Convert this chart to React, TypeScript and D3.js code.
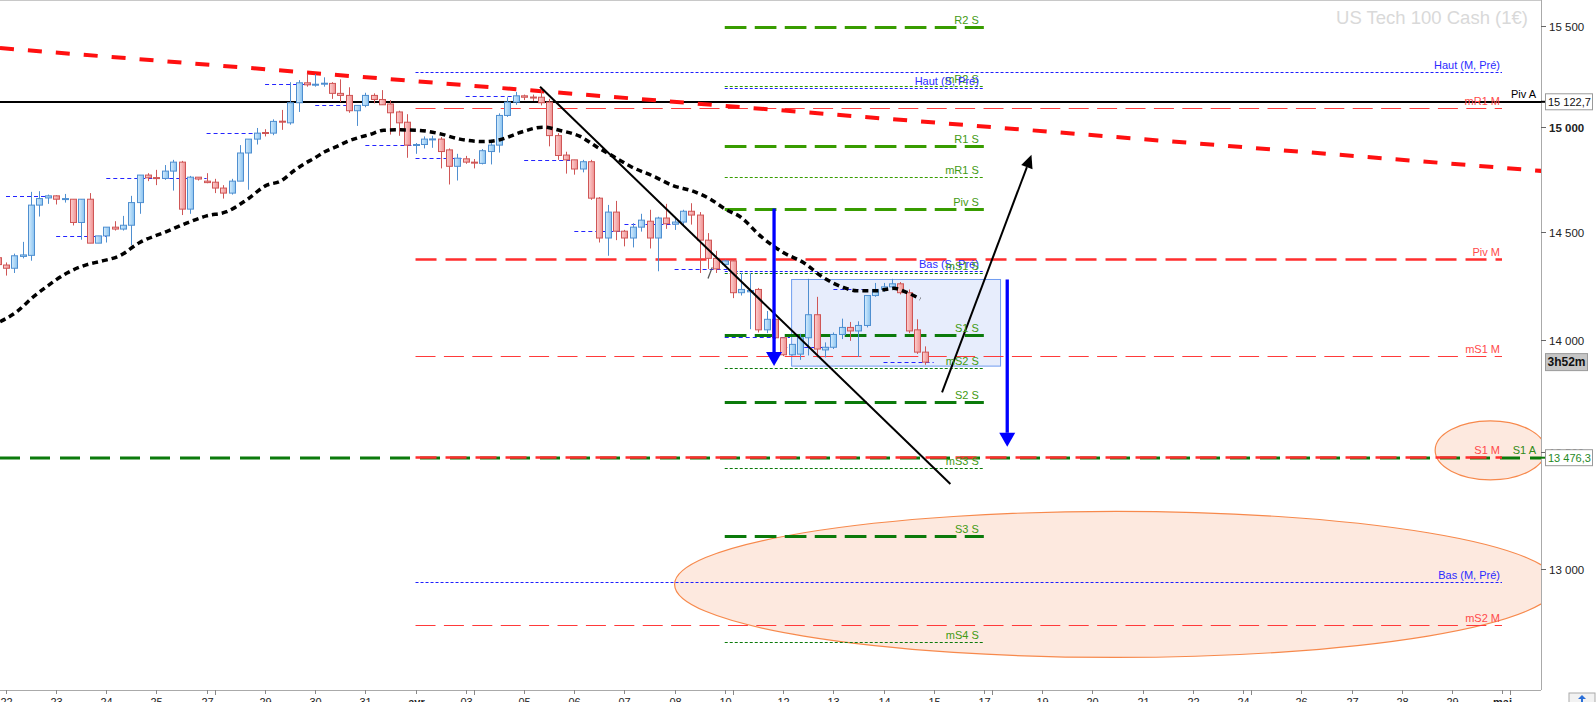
import React from "react";
import * as d3 from "d3";

// 4h candles of US Tech 100, first visible candle sits at slot -1
const firstSlot = -1;
const ohlc: [number, number, number, number][] = [
  [14378, 14392, 14340, 14346],
  [14344, 14356, 14295, 14329], [14329, 14397, 14307, 14387], [14384, 14452, 14375, 14391],
  [14389, 14688, 14364, 14625], [14625, 14691, 14571, 14656], [14659, 14675, 14631, 14669],
  [14669, 14672, 14628, 14653], [14654, 14678, 14637, 14656], [14653, 14653, 14529, 14543],
  [14543, 14653, 14462, 14653], [14653, 14682, 14446, 14446], [14446, 14480, 14446, 14480],
  [14480, 14521, 14449, 14521], [14521, 14549, 14505, 14512], [14512, 14574, 14505, 14530],
  [14530, 14669, 14437, 14637], [14637, 14768, 14584, 14768], [14768, 14777, 14739, 14755],
  [14756, 14793, 14720, 14754], [14752, 14816, 14745, 14787], [14787, 14841, 14694, 14830],
  [14830, 14836, 14578, 14606], [14606, 14764, 14584, 14758], [14758, 14758, 14742, 14749],
  [14739, 14777, 14729, 14732], [14734, 14750, 14682, 14706], [14706, 14720, 14656, 14682],
  [14682, 14750, 14675, 14739], [14739, 14912, 14739, 14874], [14874, 14941, 14698, 14941],
  [14941, 14995, 14915, 14970], [14973, 14989, 14954, 14970], [14970, 15037, 14960, 15027],
  [15028, 15083, 14986, 15025], [15020, 15219, 15011, 15118], [15118, 15229, 15073, 15216],
  [15216, 15262, 15197, 15206], [15207, 15259, 15197, 15209], [15212, 15243, 15197, 15214],
  [15213, 15219, 15137, 15164], [15164, 15233, 15121, 15154], [15154, 15194, 15069, 15079],
  [15079, 15105, 15005, 15105], [15105, 15167, 15096, 15154], [15154, 15164, 15115, 15134],
  [15134, 15180, 15108, 15108], [15112, 15131, 14963, 15069], [15073, 15079, 14957, 15020],
  [15023, 15062, 14851, 14912], [14913, 14922, 14870, 14915], [14915, 14954, 14896, 14941],
  [14940, 14957, 14899, 14942], [14941, 14951, 14800, 14881], [14889, 14896, 14723, 14810],
  [14810, 14870, 14742, 14849], [14846, 14860, 14822, 14830], [14830, 14845, 14800, 14828],
  [14824, 14893, 14819, 14885], [14881, 14938, 14819, 14912], [14912, 15066, 14876, 15056],
  [15056, 15145, 15049, 15121], [15121, 15171, 15108, 15152], [15152, 15158, 15131, 15145],
  [15146, 15158, 15127, 15144], [15145, 15194, 15105, 15118], [15121, 15137, 14906, 14958],
  [14958, 14970, 14841, 14862], [14864, 14880, 14775, 14841], [14841, 14841, 14770, 14797],
  [14797, 14841, 14781, 14832], [14832, 14841, 14650, 14658], [14658, 14663, 14449, 14470],
  [14470, 14626, 14387, 14592], [14592, 14645, 14460, 14502], [14502, 14508, 14431, 14470],
  [14470, 14540, 14426, 14521], [14521, 14584, 14500, 14554], [14549, 14603, 14421, 14470],
  [14470, 14570, 14315, 14564], [14564, 14631, 14513, 14537], [14535, 14564, 14508, 14545],
  [14545, 14603, 14530, 14596], [14596, 14634, 14533, 14578], [14578, 14592, 14307, 14460],
  [14460, 14493, 14326, 14375], [14375, 14410, 14307, 14326], [14347, 14369, 14341, 14363],
  [14363, 14369, 14191, 14216], [14216, 14307, 14203, 14231], [14220, 14307, 14049, 14226],
  [14231, 14238, 14034, 14046], [14046, 14132, 14031, 14094], [14094, 14097, 14004, 14010],
  [14010, 14010, 13927, 13933], [13933, 13980, 13930, 13980], [13936, 14028, 13910, 14010],
  [14010, 14280, 13930, 14115], [14115, 14197, 13921, 13959], [13955, 13989, 13921, 13967],
  [13967, 14034, 13959, 14025], [14025, 14097, 14004, 14057], [14057, 14082, 13996, 14041],
  [14041, 14085, 13923, 14066], [14066, 14203, 14057, 14203], [14203, 14261, 14197, 14231],
  [14231, 14261, 14220, 14243], [14243, 14280, 14238, 14257], [14257, 14265, 14208, 14216],
  [14216, 14231, 14031, 14041], [14046, 14094, 13937, 13945], [13945, 13971, 13888, 13900],
];

// moving average
const maSlots = [-0.7, 1.3, 3.3, 4.9, 7.3, 9.7, 11.3, 13.6, 16, 19.2, 21.6, 24, 26.4, 28.8, 31.2,
  32.8, 34.6, 35.7, 36.9, 38.2, 39.6, 40.8, 42, 43.5, 45.2, 47.1, 49.5, 51.9, 54.3, 57.1, 59.1,
  61.5, 64.3, 66.3, 68.7, 70.7, 72.7, 74.7, 77.5, 79.8, 82.2, 84.2, 86.2, 87.8, 90.4, 93, 95.4,
  97.8, 100.2, 101.8, 104.2, 106.2, 107.8, 109.4];
const maValues = [14083, 14129, 14198, 14245, 14307, 14346, 14361, 14387, 14449, 14500, 14540,
  14574, 14594, 14650, 14720, 14738, 14793, 14822, 14849, 14881, 14906, 14929, 14946, 14963,
  14984, 14986, 14983, 14967, 14941, 14929, 14938, 14973, 14999, 14983, 14954, 14903, 14857,
  14810, 14762, 14718, 14691, 14655, 14603, 14571, 14475, 14402, 14356, 14286, 14240, 14225,
  14225, 14236, 14217, 14187];

// daily reference segments [start slot, end slot, price]
const dailyRefs: [number, number, number][] = [
  [0, 5.9, 14667], [6, 12, 14479], [12, 24, 14754], [24, 31.2, 14970], [31, 37.3, 15208],
  [37, 41.5, 15105], [43, 48.6, 14912], [49, 54.7, 14849], [55, 62.3, 15152], [62, 67.9, 14841],
  [68, 74, 14502], [74, 80, 14535], [80, 86.3, 14326], [86, 93.8, 14012], [93, 98.6, 13967],
  [99, 102.5, 14231], [105, 111, 13900],
];

const weekSpan = [86, 117];
const weekNames = ["R2 S", "mR2 S", "Haut (S, Pré)", "R1 S", "mR1 S", "Piv S", "Bas (S, Pré)",
  "mS1 S", "S1 S", "mS2 S", "S2 S", "mS3 S", "S3 S", "mS4 S"];
const weekValues = [15495, 15200, 15192, 14909, 14758, 14608, 14318, 14306, 14023, 13874, 13722,
  13430, 13140, 12694];

const monthSpan = [49, 179];
const monthNames = ["Haut (M, Pré)", "mR1 M", "Piv M", "mS1 M", "S1 M", "Bas (M, Pré)", "mS2 M"];
const monthValues = [15271, 15090, 14372, 13926, 13481, 12944, 12765];

const yearNames = ["Piv A", "S1 A"];
const yearValues = [15122.7, 13476.3];

const dayTicks: [string, number][] = [
  ["22", 0], ["23", 6], ["24", 12], ["25", 18], ["27", 24], ["29", 31], ["30", 37], ["31", 43],
  ["avr", 49], ["03", 55], ["05", 62], ["06", 68], ["07", 74], ["08", 80], ["10", 86], ["12", 93],
  ["13", 99], ["14", 105], ["15", 111], ["17", 117], ["19", 124], ["20", 130], ["21", 136],
  ["22", 142], ["24", 148], ["26", 155], ["27", 161], ["28", 167], ["29", 173], ["mai", 179],
];
const weekStarts = [25, 56, 87, 118, 149, 180];
const priceTicks = [13000, 13500, 14000, 14500, 15000, 15500];

// drawings
const redTrend: [number, number][] = [[-0.72, 15388], [183.7, 14788]];
const blackTrend: [number, number][] = [[63.9, 15197], [113, 13362]];
const upMove: [number, number][] = [[112, 13764], [122.7, 14865]];
const downMoves: [number, number, number][] = [[91.9, 14609, 13882], [119.8, 14277, 13524]];
const rangeBox = { slots: [94, 119], prices: [14277, 13882] };
const targetZones: [number, number, number, number][] = [
  [80, 185.6, 13244, 12632],
  [171, 184.2, 13638, 13380],
];
const tick: [number, number][] = [[84, 14282], [84.5, 14333]];
const countdown = "3h52m";

const W = 1596;
const H = 702;
const plotRight = 1541;
const plotBottom = 690;
const font = "'Liberation Sans', Arial, sans-serif";

const x = d3.scaleLinear().domain([0, 179]).range([6, 1502]);
const y = d3.scaleLog().domain([13000, 15500]).range([568.8, 25.7]);

const fmtPrice = (v: number, dec = 0) =>
  d3.format(`,.${dec}f`)(v).replace(",", " ").replace(".", ",");

function levelStyle(name: string) {
  if (name.startsWith("Haut") || name.startsWith("Bas"))
    return { stroke: "#1e1eff", width: 1, dash: "3,2", text: "#2b2bff" };
  const minor = name.startsWith("m");
  if (name.endsWith(" S")) {
    const upper = name.includes("R") || name.startsWith("Piv");
    const c = upper ? "#389c00" : "#0b7a0b";
    return minor
      ? { stroke: c, width: 1, dash: "3,2", text: "#3f9a12" }
      : { stroke: c, width: 3, dash: "21.7,8.3", text: "#3f9a12" };
  }
  if (name.endsWith(" M"))
    return minor
      ? { stroke: "#ff3a3a", width: 1, dash: "20,8.4", text: "#ff4a4a" }
      : { stroke: "#ff2e2e", width: 2.5, dash: "21,9", text: "#ff4a4a" };
  return { stroke: "#000", width: 2, dash: "", text: "#000" };
}

function arrowHead(x1: number, y1: number, x2: number, y2: number, len: number, wid: number) {
  const dx = x2 - x1;
  const dy = y2 - y1;
  const d = Math.hypot(dx, dy);
  const ux = dx / d;
  const uy = dy / d;
  const bx = x2 - ux * len;
  const by = y2 - uy * len;
  const px = -uy * (wid / 2);
  const py = ux * (wid / 2);
  return { bx, by, pts: `${x2},${y2} ${bx + px},${by + py} ${bx - px},${by - py}` };
}

const Candles = () => (
  <g>
    {ohlc.map(([o, h, l, c], i) => {
      const cx = Math.round(x(i + firstSlot)) + 0.5;
      const up = c >= o;
      const stroke = up ? "#4f8fd0" : "#cf5656";
      const top = y(Math.max(o, c));
      const bot = y(Math.min(o, c));
      return (
        <g key={i}>
          <line x1={cx} x2={cx} y1={y(h)} y2={y(l)} stroke={stroke} strokeWidth={1} />
          <rect
            x={cx - 3}
            y={top}
            width={6}
            height={Math.max(1, bot - top)}
            fill={up ? "url(#gBlue)" : "url(#gRed)"}
            stroke={stroke}
            strokeWidth={1}
          />
        </g>
      );
    })}
  </g>
);

export default function App() {
  const ma = d3
    .line<number>()
    .x((_, i) => x(maSlots[i]))
    .y((v) => y(v))
    .curve(d3.curveMonotoneX)(maValues);

  const up = arrowHead(x(upMove[0][0]), y(upMove[0][1]), x(upMove[1][0]), y(upMove[1][1]), 13, 12);

  return (
    <svg
      width={W}
      height={H}
      style={{ position: "fixed", left: 0, top: 0, background: "#fff", display: "block" }}
      fontFamily={font}
    >
      <defs>
        <linearGradient id="gRed" x1="0" x2="1" y1="0" y2="0">
          <stop offset="0" stopColor="#fcd2d2" />
          <stop offset="1" stopColor="#ef8f8f" />
        </linearGradient>
        <linearGradient id="gBlue" x1="0" x2="1" y1="0" y2="0">
          <stop offset="0" stopColor="#d6edfd" />
          <stop offset="1" stopColor="#88c2f0" />
        </linearGradient>
        <clipPath id="plot">
          <rect x={0} y={0} width={plotRight} height={plotBottom} />
        </clipPath>
      </defs>

      <rect width={W} height={H} fill="#fff" />

      <text x={1528} y={24} textAnchor="end" fontSize={18.5} fill="#d9d9d9">
        US Tech 100 Cash (1€)
      </text>

      <g clipPath="url(#plot)">
        {targetZones.map(([s0, s1, p0, p1], i) => {
          const x0 = x(s0);
          const x1 = x(s1);
          const y0 = y(p0);
          const y1 = y(p1);
          return (
            <ellipse
              key={i}
              cx={(x0 + x1) / 2}
              cy={(y0 + y1) / 2}
              rx={(x1 - x0) / 2}
              ry={(y1 - y0) / 2}
              fill="#fde9df"
              stroke="#f7894c"
              strokeWidth={1.2}
            />
          );
        })}

        <rect
          x={x(rangeBox.slots[0])}
          y={y(rangeBox.prices[0])}
          width={x(rangeBox.slots[1]) - x(rangeBox.slots[0])}
          height={y(rangeBox.prices[1]) - y(rangeBox.prices[0])}
          fill="rgba(110,150,240,0.17)"
          stroke="#6f9cf0"
          strokeWidth={1}
        />

        {/* annual levels */}
        {yearNames.map((n, i) => {
          const yy = Math.round(y(yearValues[i]));
          const dashed = n !== "Piv A";
          return (
            <line
              key={n}
              x1={0}
              x2={plotRight}
              y1={yy}
              y2={yy}
              stroke={dashed ? "#0b7a0b" : "#000"}
              strokeWidth={dashed ? 3 : 2}
              strokeDasharray={dashed ? "20,10" : undefined}
            />
          );
        })}

        {/* monthly levels */}
        {monthNames.map((n, i) => {
          const st = levelStyle(n);
          const yy = Math.round(y(monthValues[i])) + 0.5;
          return (
            <line
              key={n}
              x1={x(monthSpan[0])}
              x2={x(monthSpan[1])}
              y1={yy}
              y2={yy}
              stroke={st.stroke}
              strokeWidth={st.width}
              strokeDasharray={st.dash}
            />
          );
        })}

        {/* weekly levels */}
        {weekNames.map((n, i) => {
          const st = levelStyle(n);
          const yy = Math.round(y(weekValues[i])) + 0.5;
          return (
            <line
              key={n}
              x1={x(weekSpan[0])}
              x2={x(weekSpan[1])}
              y1={yy}
              y2={yy}
              stroke={st.stroke}
              strokeWidth={st.width}
              strokeDasharray={st.dash}
            />
          );
        })}

        {dailyRefs.map(([s0, s1, p], i) => (
          <line
            key={i}
            x1={x(s0)}
            x2={x(s1)}
            y1={Math.round(y(p)) + 0.5}
            y2={Math.round(y(p)) + 0.5}
            stroke="#2424ff"
            strokeWidth={1}
            strokeDasharray="4,3"
          />
        ))}

        <line
          x1={x(redTrend[0][0])}
          y1={y(redTrend[0][1])}
          x2={x(redTrend[1][0])}
          y2={y(redTrend[1][1])}
          stroke="#ff1010"
          strokeWidth={4}
          strokeDasharray="14,14"
        />

        <Candles />

        <path d={ma ?? ""} fill="none" stroke="#000" strokeWidth={3.5} strokeDasharray="6,4" />

        <line
          x1={x(blackTrend[0][0])}
          y1={y(blackTrend[0][1])}
          x2={x(blackTrend[1][0])}
          y2={y(blackTrend[1][1])}
          stroke="#000"
          strokeWidth={2}
        />
        <line
          x1={x(tick[0][0])}
          y1={y(tick[0][1])}
          x2={x(tick[1][0])}
          y2={y(tick[1][1])}
          stroke="#555"
          strokeWidth={1.3}
        />

        {downMoves.map(([s, p0, p1], i) => {
          const ax = x(s);
          const h = arrowHead(ax, y(p0), ax, y(p1), 14, 16);
          return (
            <g key={i}>
              <line x1={ax} x2={ax} y1={y(p0)} y2={h.by} stroke="#0000ff" strokeWidth={3.3} />
              <polygon points={h.pts} fill="#0000ff" />
            </g>
          );
        })}

        <line
          x1={x(upMove[0][0])}
          y1={y(upMove[0][1])}
          x2={up.bx}
          y2={up.by}
          stroke="#000"
          strokeWidth={2}
        />
        <polygon points={up.pts} fill="#000" />

        {/* labels */}
        {weekNames.map((n, i) => (
          <text
            key={n}
            x={x(weekSpan[1]) - 5}
            y={y(weekValues[i]) - 3}
            textAnchor="end"
            fontSize={11}
            fill={levelStyle(n).text}
          >
            {n}
          </text>
        ))}
        {monthNames.map((n, i) => (
          <text
            key={n}
            x={x(monthSpan[1]) - 2}
            y={y(monthValues[i]) - 3}
            textAnchor="end"
            fontSize={11}
            fill={levelStyle(n).text}
          >
            {n}
          </text>
        ))}
        {yearNames.map((n, i) => (
          <text
            key={n}
            x={1536}
            y={y(yearValues[i]) - 4}
            textAnchor="end"
            fontSize={11}
            fill={i === 0 ? "#000" : "#2f8a16"}
          >
            {n}
          </text>
        ))}
      </g>

      {/* frame */}
      <line x1={0} x2={plotRight} y1={0.5} y2={0.5} stroke="#c8c8c8" />
      <line x1={plotRight + 0.5} x2={plotRight + 0.5} y1={0} y2={plotBottom} stroke="#aaa" />
      <line x1={0} x2={plotRight} y1={plotBottom + 0.5} y2={plotBottom + 0.5} stroke="#aaa" />

      {/* price axis */}
      {priceTicks.map((v) => (
        <g key={v} transform={`translate(${plotRight},${Math.round(y(v)) + 0.5})`}>
          <line x1={0} x2={5} stroke="#666" />
          <text
            x={8}
            dy="0.35em"
            fontSize={11.5}
            fill="#222"
            fontWeight={v === 15000 ? "bold" : "normal"}
          >
            {fmtPrice(v)}
          </text>
        </g>
      ))}

      {yearValues.map((v, i) => {
        const yy = y(v);
        return (
          <g key={v}>
            <line
              x1={plotRight}
              x2={plotRight + 5}
              y1={yy}
              y2={yy}
              stroke={i === 0 ? "#000" : "#0b7a0b"}
              strokeWidth={2}
            />
            <rect x={plotRight + 4.5} y={yy - 8} width={47} height={16} fill="#fff" stroke="#9a9a9a" />
            <text x={plotRight + 7} y={yy} dy="0.35em" fontSize={11} fill={i === 0 ? "#111" : "#1f8a1f"}>
              {fmtPrice(v, 1)}
            </text>
          </g>
        );
      })}

      <g transform={`translate(${plotRight + 4.5},${y(ohlc[ohlc.length - 1][3]) - 8.5})`}>
        <rect width={42} height={17} fill="#c6c6c6" stroke="#9a9a9a" />
        <text x={21} y={8.5} dy="0.35em" textAnchor="middle" fontSize={12} fontWeight="bold" fill="#111">
          {countdown}
        </text>
      </g>

      {/* time axis */}
      {dayTicks.map(([t, s], i) => (
        <g key={i} transform={`translate(${Math.round(x(s)) + 0.5},${plotBottom})`}>
          <line y1={0} y2={4} stroke="#888" />
          <text
            y={16}
            textAnchor="middle"
            fontSize={11}
            fill="#222"
            fontWeight={t === "avr" || t === "mai" ? "bold" : "normal"}
          >
            {t}
          </text>
        </g>
      ))}
      {weekStarts.map((s) => (
        <line
          key={s}
          x1={Math.round(x(s)) + 0.5}
          x2={Math.round(x(s)) + 0.5}
          y1={plotBottom}
          y2={plotBottom + 5}
          stroke="#888"
        />
      ))}

      <g transform="translate(1569,693)">
        <rect width={26} height={12} fill="#f2f2f2" stroke="#aaa" />
        <polygon points="13,2 9,6 12,6 12,10 14,10 14,6 17,6" fill="#2a6fd8" />
      </g>
    </svg>
  );
}
